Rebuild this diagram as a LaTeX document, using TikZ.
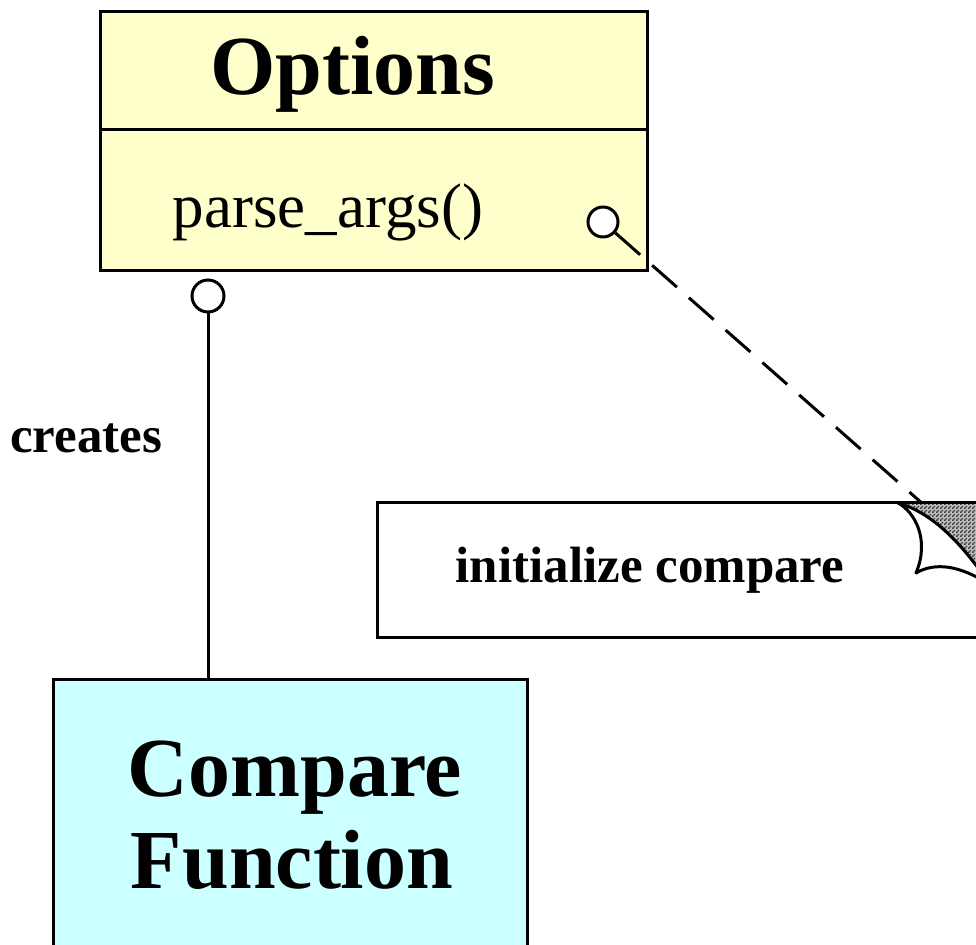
\documentclass[tikz,border=0pt]{standalone}
\usepackage{fontspec}
\setmainfont{Liberation Serif}
\usetikzlibrary{patterns}
\usepackage{xcolor}
\definecolor{optyellow}{HTML}{FFFFCC}
\definecolor{cmpcyan}{HTML}{CCFFFF}

% small checker for the folded corner
\pgfdeclarepatternformonly{finechecker}{\pgfqpoint{0pt}{0pt}}{\pgfqpoint{2pt}{2pt}}{\pgfqpoint{2pt}{2pt}}{
	\pgfpathrectangle{\pgfqpoint{0pt}{0pt}}{\pgfqpoint{1pt}{1pt}}
	\pgfpathrectangle{\pgfqpoint{1pt}{1pt}}{\pgfqpoint{1pt}{1pt}}
	\pgfusepath{fill}
}

\tikzset{
	umlbox/.style={draw, line width=1.5pt, anchor=north west, inner sep=0pt, outer sep=0pt},
	knob/.style={draw, circle, fill=white, line width=1.5pt, inner sep=0pt},
	bigname/.style={font=\fontsize{42}{46}\selectfont\bfseries, anchor=base},
	opname/.style={font=\fontsize{31.5}{34}\selectfont, anchor=base},
	smalltag/.style={font=\fontsize{25.5}{28}\selectfont\bfseries, anchor=base}
}

\begin{document}
\begin{tikzpicture}[x=0.5pt, y=-0.5pt, line width=1.5pt]
	\clip (0,0) rectangle (976,945);
	\node[umlbox, fill=optyellow, minimum width=273.5pt, minimum height=59pt] (optname) at (100,12) {};
	\node[umlbox, fill=optyellow, minimum width=273.5pt, minimum height=70.5pt] (optops) at (optname.south west) {};
	\node[bigname] (optlabel) at (353,95) {Options};
	\node[opname] (parselabel) at (328,228) {parse\_args()};
	\node[knob, minimum size=15pt] (parsecirc) at (603,222) {};
	\node[knob, minimum size=16pt] (optcirc) at (208,296) {};

	\node[umlbox, fill=cmpcyan, minimum width=237pt, minimum height=140pt] (cmpbox) at (53,680) {};
	\node[bigname] (cmplabel) at (295,797) {Compare};
	\node[bigname] (funclabel) at (292,889) {Function};

	\draw (optcirc) -- (optcirc |- cmpbox.north);
	\node[smalltag] (createslabel) at (86,453) {creates};

	\coordinate (notecorner) at (932,512);
	\draw[dash pattern=on 16.5pt off 8pt] (parsecirc) -- (notecorner);

	\node[umlbox, fill=white, minimum width=311.5pt, minimum height=67.5pt] (note) at (377,503) {};
	\node[smalltag] (notelabel) at (650,583) {initialize compare};
	% folded corner
	\fill[gray!50] (898,503) -- (1000,503) -- (1000,600) -- (990,585) .. controls (960,540) and (930,512) .. (898,503) -- cycle;
	\fill[pattern=finechecker, pattern color=black!80] (898,503) -- (1000,503) -- (1000,600) -- (990,585) .. controls (960,540) and (930,512) .. (898,503) -- cycle;
	\draw[fill=white, line join=round] (898,503) .. controls (915,512) and (930,540) .. (916,573)
		.. controls (935,562) and (960,565) .. (990,585)
		.. controls (960,540) and (930,512) .. (898,503) -- cycle;
	\draw (note.north west) -- (note.north east);
\end{tikzpicture}
\end{document}
